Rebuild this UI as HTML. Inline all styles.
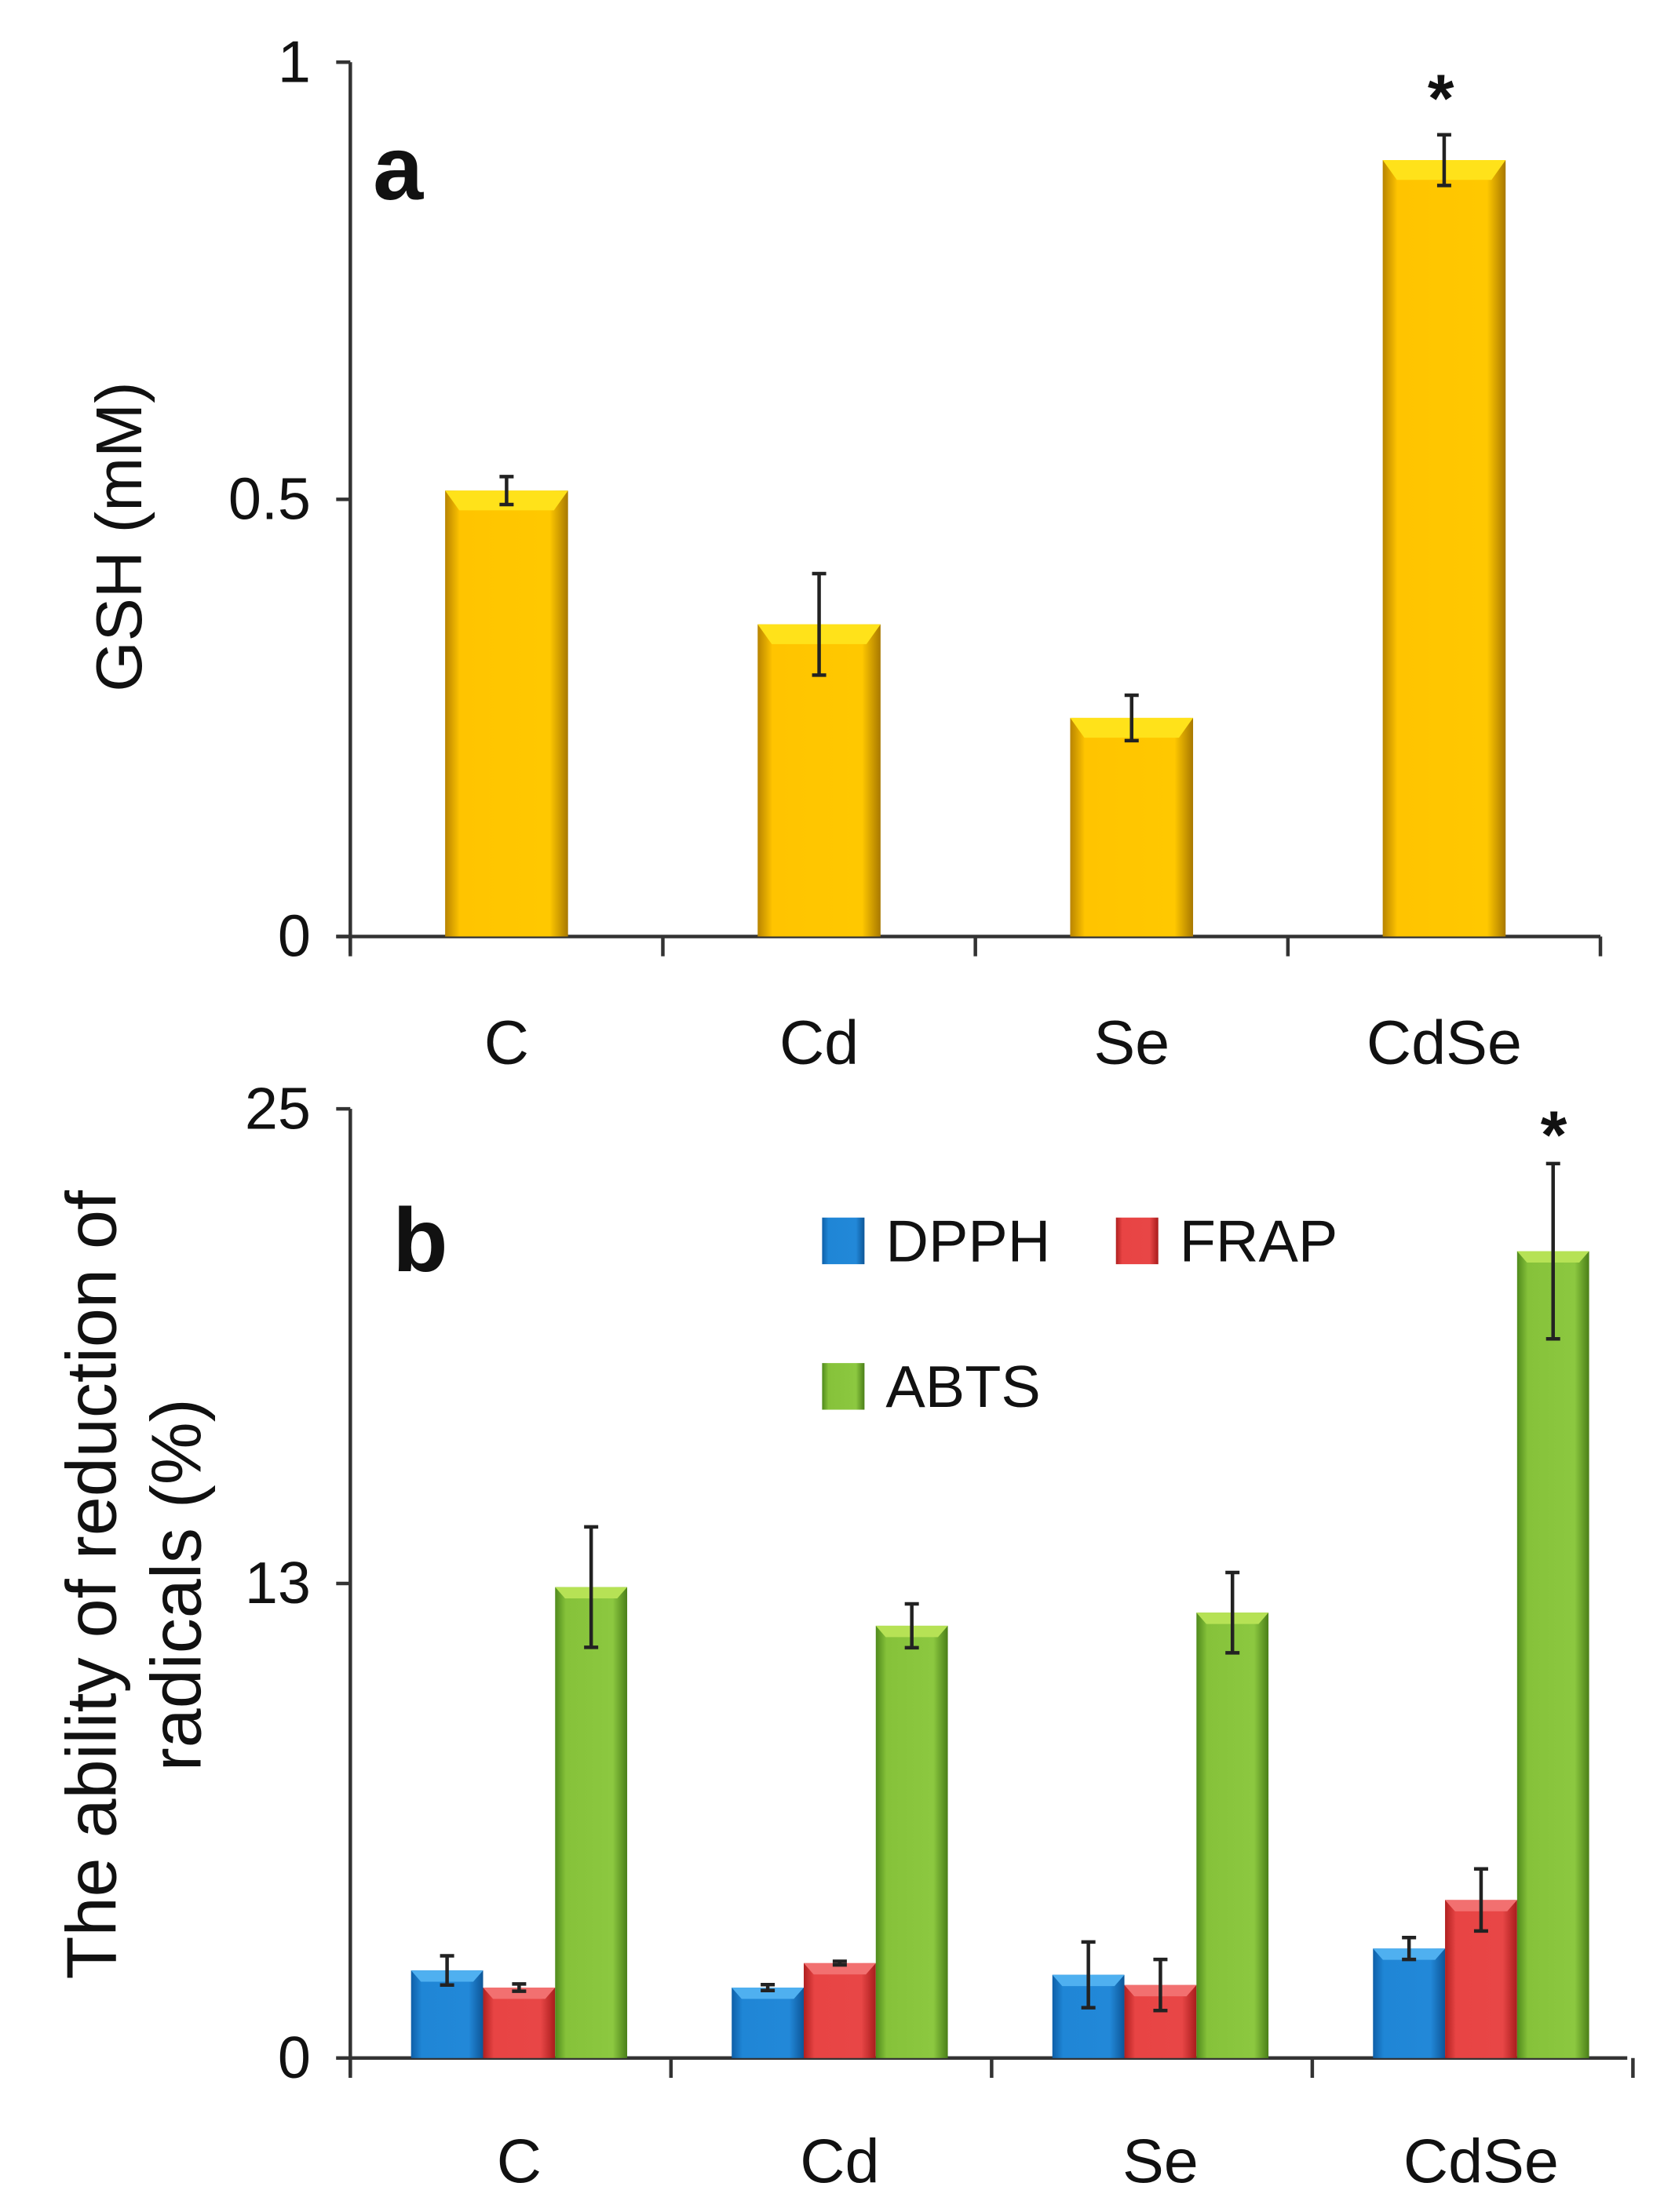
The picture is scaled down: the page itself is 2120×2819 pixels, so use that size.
<!DOCTYPE html>
<html><head><meta charset="utf-8"><style>
html,body{margin:0;padding:0;background:#fff}
svg{display:block}
text{font-family:"Liberation Sans",sans-serif;fill:#111}
</style></head><body>
<svg id="chart" width="2120" height="2819" viewBox="0 0 1178 1566" preserveAspectRatio="none" xmlns="http://www.w3.org/2000/svg">
<defs>
<linearGradient id="gGold" x1="0" x2="1" y1="0" y2="0"><stop offset="0" stop-color="#b88400"/><stop offset="0.12" stop-color="#ffc400"/><stop offset="0.85" stop-color="#ffc800"/><stop offset="1" stop-color="#a87800"/></linearGradient>
<linearGradient id="gGreen" x1="0" x2="1"><stop offset="0" stop-color="#4f8a1c"/><stop offset="0.15" stop-color="#86c23a"/><stop offset="0.8" stop-color="#8cc840"/><stop offset="1" stop-color="#4a7f18"/></linearGradient>
<linearGradient id="gBlue" x1="0" x2="1"><stop offset="0" stop-color="#0e5fa8"/><stop offset="0.15" stop-color="#1f86d6"/><stop offset="0.8" stop-color="#2288d8"/><stop offset="1" stop-color="#0d5698"/></linearGradient>
<linearGradient id="gRed" x1="0" x2="1"><stop offset="0" stop-color="#b02020"/><stop offset="0.15" stop-color="#e84444"/><stop offset="0.8" stop-color="#e84646"/><stop offset="1" stop-color="#a81c1c"/></linearGradient>
</defs>
<g id="pa"></g>
<g id="pb"></g>
</svg>
<script>
const catsA = ["C","Cd","Se","CdSe"];
const gshVals = [0.51, 0.357, 0.25, 0.888];
const gshErr = [0.016, 0.058, 0.026, 0.029];
const ticksA = [0, 0.5, 1];
const tickLabelsA = ["0","0.5","1"];

const catsB = ["C","Cd","Se","CdSe"];
const seriesB = ["DPPH","FRAP","ABTS"];
const dpph = [2.4, 1.93, 2.28, 3.0];
const dpphErr = [0.4, 0.08, 0.9, 0.3];
const frap = [1.93, 2.6, 2.0, 4.33];
const frapErr = [0.1, 0.05, 0.7, 0.85];
const abts = [12.9, 11.84, 12.2, 22.1];
const abtsErr = [1.65, 0.6, 1.1, 2.4];
const ticksB = [0, 13, 26];
const tickLabelsB = ["0","13","25"];

const NS="http://www.w3.org/2000/svg";
function mk(tag, attrs, parent, txt){const e=document.createElementNS(NS,tag);for(const k in attrs)e.setAttribute(k,attrs[k]);if(txt!==undefined)e.textContent=txt;parent.appendChild(e);return e;}

// Panel A
const pa=document.getElementById('pa');
const ax0=248, ax1=1133, ayT=44, ayB=663, aMax=1;
const yA=v=>ayB-(v/aMax)*(ayB-ayT);
const stepA=(ax1-ax0)/catsA.length;
const xA=i=>ax0+stepA*(i+0.5);
let l=mk('line',{x1:ax0,y1:ayT,x2:ax0,y2:ayB+12,stroke:'#333','stroke-width':2.5},pa);


l=mk('line',{x1:ax0-10,y1:ayB,x2:ax1,y2:ayB,stroke:'#333','stroke-width':2.5},pa);


for(let i=0;i<=catsA.length;i++){const t=mk('line',{x1:ax0+stepA*i,y1:ayB,x2:ax0+stepA*i,y2:ayB+14,stroke:'#333','stroke-width':2.5},pa);

}
ticksA.forEach((v,i)=>{mk('line',{x1:ax0-10,y1:yA(v),x2:ax0,y2:yA(v),stroke:'#333','stroke-width':2.5},pa);
const t=mk('text',{x:ax0-28,y:yA(v)+14,'text-anchor':'end','font-size':42},pa,tickLabelsA[i]);

});
const bwA=87;
catsA.forEach((c,i)=>{const x=xA(i)-bwA/2, y=yA(gshVals[i]);
const r=mk('rect',{x:x,y:y,width:bwA,height:ayB-y,fill:'url(#gGold)'},pa);


mk('polygon',{points:`${x},${y} ${x+bwA},${y} ${x+bwA-10},${y+14} ${x+10},${y+14}`,fill:'#ffe21a'},pa);
const e1=yA(gshVals[i]+gshErr[i]), e2=yA(gshVals[i]-gshErr[i]);
const g=mk('g',{stroke:'#222','stroke-width':2.5},pa);


mk('line',{x1:xA(i),y1:e1,x2:xA(i),y2:e2},g);mk('line',{x1:xA(i)-5,y1:e1,x2:xA(i)+5,y2:e1},g);mk('line',{x1:xA(i)-5,y1:e2,x2:xA(i)+5,y2:e2},g);
const lb=mk('text',{x:xA(i),y:753,'text-anchor':'middle','font-size':44},pa,c);

});
let t=mk('text',{x:1020,y:86,'text-anchor':'middle','font-size':48,'font-weight':'bold'},pa,'*');


t=mk('text',{x:264,y:141,'font-size':64,'font-weight':'bold'},pa,'a');


t=mk('text',{x:100,y:380,'text-anchor':'middle','font-size':46,transform:'rotate(-90 100 380)'},pa,'GSH (mM)');



// Panel B
const pb=document.getElementById('pb');
const bx0=248, bx1=1152, byT=785, byB=1457, bMax=26;
const yB=v=>byB-(v/bMax)*(byB-byT);
const stepB=227;
const cx=i=>bx0+stepB*(i+0.5)+6;
l=mk('line',{x1:bx0,y1:byT,x2:bx0,y2:byB+12,stroke:'#333','stroke-width':2.5},pb);


l=mk('line',{x1:bx0-10,y1:byB,x2:bx1,y2:byB,stroke:'#333','stroke-width':2.5},pb);


for(let i=0;i<=catsB.length;i++){const tk=mk('line',{x1:bx0+stepB*i,y1:byB,x2:bx0+stepB*i,y2:byB+14,stroke:'#333','stroke-width':2.5},pb);

}
ticksB.forEach((v,i)=>{mk('line',{x1:bx0-10,y1:yB(v),x2:bx0,y2:yB(v),stroke:'#333','stroke-width':2.5},pb);
const tt=mk('text',{x:bx0-28,y:yB(v)+14,'text-anchor':'end','font-size':42},pb,tickLabelsB[i]);

});
const bwB=51;
const sVals=[dpph,frap,abts], sErr=[dpphErr,frapErr,abtsErr], sFill=['url(#gBlue)','url(#gRed)','url(#gGreen)'], sTop=['#4fb0f0','#f27070','#b6e255'];
catsB.forEach((c,i)=>{
 sVals.forEach((arr,s)=>{
  const xc=cx(i)+(s-1)*bwB, x=xc-bwB/2, y=yB(arr[i]);
  const r=mk('rect',{x:x,y:y,width:bwB,height:byB-y,fill:sFill[s]},pb);
  
  
  mk('polygon',{points:`${x},${y} ${x+bwB},${y} ${x+bwB-7},${y+8} ${x+7},${y+8}`,fill:sTop[s]},pb);
  const e1=yB(arr[i]+sErr[s][i]), e2=yB(arr[i]-sErr[s][i]);
  const g=mk('g',{stroke:'#222','stroke-width':2.5},pb);
  
  
  mk('line',{x1:xc,y1:e1,x2:xc,y2:e2},g);mk('line',{x1:xc-5,y1:e1,x2:xc+5,y2:e1},g);mk('line',{x1:xc-5,y1:e2,x2:xc+5,y2:e2},g);
 });
 const lb=mk('text',{x:cx(i),y:1545,'text-anchor':'middle','font-size':44},pb,c);
 
 
});
t=mk('text',{x:1100,y:820,'text-anchor':'middle','font-size':48,'font-weight':'bold'},pb,'*');


t=mk('text',{x:278,y:900,'font-size':64,'font-weight':'bold'},pb,'b');


const legPos=[[582,862],[790,862],[582,965]];
seriesB.forEach((s,k)=>{
 const g=mk('g',{},pb);
 
 
 mk('rect',{x:legPos[k][0],y:legPos[k][1],width:30,height:33,fill:sFill[k]},g);
 mk('text',{x:legPos[k][0]+45,y:legPos[k][1]+31,'font-size':42},g,s);
});
t=mk('text',{x:82,y:1122,'text-anchor':'middle','font-size':50,transform:'rotate(-90 82 1122)'},pb,'The ability of reduction of');


t=mk('text',{x:142,y:1122,'text-anchor':'middle','font-size':50,transform:'rotate(-90 142 1122)'},pb,'radicals (%)');


</script>
</body></html>
